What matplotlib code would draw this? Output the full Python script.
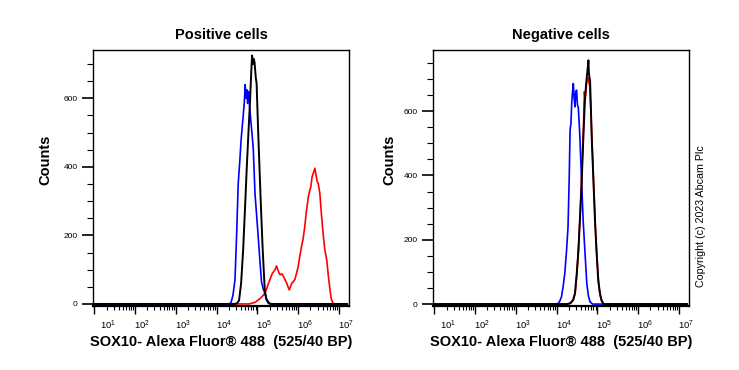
import numpy as np
import matplotlib
matplotlib.use("Agg")
import matplotlib.pyplot as plt
from matplotlib.ticker import LogLocator, MultipleLocator, NullFormatter
from matplotlib.transforms import ScaledTranslation

plt.rcParams['font.family'] = ['Liberation Sans', 'DejaVu Sans']
plt.rcParams['mathtext.fontset'] = 'custom'
plt.rcParams['mathtext.rm'] = 'Liberation Sans'

# histogram curves: log10(intensity) and counts
pos_blue_log = [1.0, 4.30, 4.35, 4.40, 4.45, 4.49, 4.53, 4.57, 4.60, 4.63, 4.65, 4.68, 4.70, 4.72,
                4.74, 4.76, 4.79, 4.81, 4.85, 4.88, 4.90, 4.94, 4.98, 5.02, 5.06, 5.10, 5.14,
                5.18, 5.22, 5.26, 5.30, 7.2]
pos_blue_cnt = [0, 0, 3, 25, 70, 200, 352, 420, 478, 520, 546, 590, 640, 600,
                625, 585, 620, 575, 520, 480, 449, 323, 260, 196, 128, 65, 45,
                32, 12, 3, 0, 0]

pos_black_log = [1.0, 4.45, 4.50, 4.55, 4.60, 4.65, 4.70, 4.74, 4.78, 4.82, 4.85, 4.87, 4.89,
                 4.91, 4.93, 4.96, 4.98, 5.02, 5.05, 5.08, 5.13, 5.18, 5.22, 5.28, 5.33, 7.2]
pos_black_cnt = [0, 0, 2, 10, 60, 157, 290, 400, 500, 595, 680, 725, 700,
                 715, 705, 660, 644, 498, 400, 303, 157, 41, 15, 3, 0, 0]

pos_red_log = [1.0, 4.80, 4.86, 4.95, 5.00, 5.06, 5.12, 5.18, 5.23, 5.27, 5.32, 5.36, 5.40, 5.43,
               5.47, 5.50, 5.53, 5.56, 5.60, 5.64, 5.68, 5.72, 5.75, 5.78, 5.81, 5.84, 5.88,
               5.92, 5.96, 6.00, 6.04, 6.08, 6.12, 6.16, 6.20, 6.25, 6.28, 6.31, 6.34, 6.38,
               6.41, 6.43, 6.45, 6.47, 6.49, 6.53, 6.57, 6.61, 6.65, 6.70, 6.74, 6.78, 6.81,
               6.85, 6.90, 7.2]
pos_red_cnt = [0, 0, 2, 5, 10, 15, 22, 31, 45, 60, 75, 88, 95, 99,
               111, 100, 90, 85, 88, 80, 70, 60, 50, 41, 50, 60, 65,
               72, 90, 109, 140, 167, 190, 225, 270, 313, 330, 342, 371, 385,
               396, 380, 367, 355, 352, 323, 260, 206, 160, 128, 80, 41, 15,
               2, 0, 0]

neg_blue_log = [1.0, 3.95, 4.04, 4.08, 4.12, 4.16, 4.20, 4.24, 4.28, 4.31, 4.33, 4.35, 4.37, 4.39,
                4.41, 4.43, 4.45, 4.47, 4.49, 4.51, 4.53, 4.55, 4.57, 4.61, 4.65, 4.70, 4.74,
                4.78, 4.82, 4.88, 7.2]
neg_blue_cnt = [0, 0, 2, 10, 23, 55, 95, 160, 240, 400, 541, 560, 624, 660,
                686, 640, 613, 660, 665, 620, 613, 570, 520, 390, 261, 150, 64,
                25, 7, 0, 0]

neg_red_log = [1.0, 4.25, 4.35, 4.42, 4.46, 4.50, 4.54, 4.58, 4.62, 4.66, 4.68, 4.70, 4.72, 4.75,
               4.77, 4.79, 4.81, 4.84, 4.87, 4.91, 4.95, 4.99, 5.03, 5.07, 5.11, 5.15, 7.2]
neg_red_cnt = [0, 0, 3, 15, 40, 100, 180, 290, 420, 560, 660, 640, 670, 700,
               704, 690, 680, 600, 500, 370, 240, 140, 65, 25, 8, 0, 0]

neg_black_log = [1.0, 4.25, 4.33, 4.40, 4.45, 4.49, 4.53, 4.57, 4.61, 4.65, 4.69, 4.72, 4.74,
                 4.76, 4.78, 4.79, 4.81, 4.82, 4.84, 4.86, 4.90, 4.94, 4.98, 5.02, 5.06, 5.10,
                 5.15, 7.2]
neg_black_cnt = [0, 0, 2, 12, 33, 90, 158, 260, 365, 500, 624, 680, 707,
                 730, 758, 720, 700, 696, 610, 520, 390, 261, 160, 75, 35, 12,
                 0, 0]

titles = ["Positive cells", "Negative cells"]
xlabel = "SOX10- Alexa Fluor® 488  (525/40 BP)"
decades = [1, 2, 3, 4, 5, 6, 7]

fig = plt.figure(figsize=(7.39, 3.70), dpi=100)
ax1 = fig.add_axes([93 / 739, 64 / 370, 256 / 739, 256 / 370])
ax2 = fig.add_axes([433 / 739, 64 / 370, 256 / 739, 256 / 370])

panels = [
    (ax1, [(pos_red_log, pos_red_cnt, 'red'), (pos_blue_log, pos_blue_cnt, 'blue'),
           (pos_black_log, pos_black_cnt, 'black')], 741),
    (ax2, [(neg_blue_log, neg_blue_cnt, 'blue'), (neg_red_log, neg_red_cnt, 'red'),
           (neg_black_log, neg_black_cnt, 'black')], 790),
]

for i, (ax, curves, ytop) in enumerate(panels):
    for lg, cnt, col in curves:
        ax.plot(10 ** np.array(lg), cnt, color=col, lw=1.4 if col == 'black' else 1.2)
    ax.set_xscale('log')
    ax.set_xlim(10 ** 0.97, 10 ** 7.245)
    ax.set_ylim(-6, ytop)
    ax.set_xticks([10 ** d for d in decades])
    ax.set_xticklabels([f'$10^{{{d}}}$' for d in decades], fontsize=6.5)
    ax.xaxis.set_minor_locator(LogLocator(base=10, subs=np.arange(2, 10)))
    ax.xaxis.set_minor_formatter(NullFormatter())
    ax.set_yticks([0, 200, 400, 600])
    ax.yaxis.set_minor_locator(MultipleLocator(50))
    ax.tick_params(axis='x', which='major', length=6, width=1, pad=3, labelsize=6.8)
    ax.tick_params(axis='x', which='minor', length=3, width=0.8)
    ax.tick_params(axis='y', which='major', length=8, width=1.2, pad=3, labelsize=6)
    ax.tick_params(axis='y', which='minor', length=4, width=0.8)
    for j, lab in enumerate(ax.get_xticklabels()):
        dx = 0.14 if j == 0 else 0.07
        lab.set_transform(lab.get_transform() + ScaledTranslation(dx, 0, fig.dpi_scale_trans))
    for sp in ax.spines.values():
        sp.set_linewidth(1)
    ax.spines['bottom'].set_linewidth(1.6)
    ax.set_title(titles[i], fontsize=10.5, fontweight='bold', pad=8)

fig.text(45 / 739, 0.568, "Counts", rotation=90, fontsize=10.5, fontweight='bold',
         ha='center', va='center')
fig.text(389 / 739, 0.568, "Counts", rotation=90, fontsize=10.5, fontweight='bold',
         ha='center', va='center')
fig.text(221 / 739, 0.0757, xlabel, fontsize=10.5, fontweight='bold', ha='center', va='center')
fig.text(561 / 739, 0.0757, xlabel, fontsize=10.5, fontweight='bold', ha='center', va='center')
fig.text(701 / 739, 0.416, "Copyright (c) 2023 Abcam Plc", rotation=90, fontsize=7.7,
         ha='center', va='center')

fig.savefig("out.png", dpi=100)
